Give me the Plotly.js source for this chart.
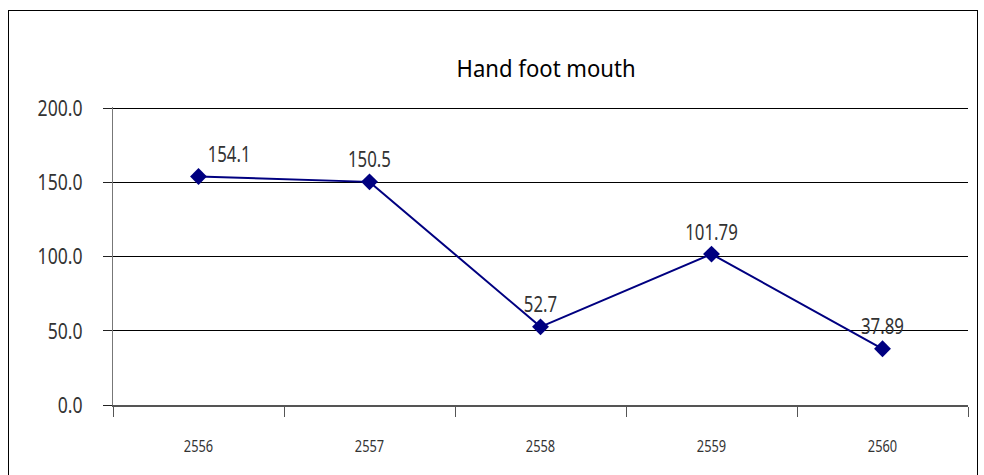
<!DOCTYPE html>
<html><head><meta charset="utf-8">
<script src="https://cdn.plot.ly/plotly-3.0.1.min.js"></script>
<style>
body{margin:0;background:#fff;}
#frame{position:absolute;left:8px;top:10px;width:970px;height:480px;border:1.5px solid #000;box-sizing:border-box;}
#chart{position:absolute;left:0;top:0;width:984px;height:475px;}
</style></head>
<body><div id="frame"></div><div id="chart"></div>
<script>
const years = ["2556","2557","2558","2559","2560"];
const rates = [154.1, 150.5, 52.7, 101.79, 37.89];
const rateLabels = ["154.1","150.5","52.7","101.79","37.89"];
const yTicks = [0, 50, 100, 150, 200];

const font = "'Noto Sans', 'DejaVu Sans', sans-serif";

Plotly.newPlot('chart', [{
  x: years, y: rates, type: 'scatter', mode: 'lines+markers+text',
  text: rateLabels,
  textposition: ['top right','top center','top center','top center','top center'],
  textfont: {family: font, size: 21, color: '#333'},
  line: {color: '#000080', width: 2},
  marker: {symbol: 'diamond', size: 13, color: '#000080'},
  cliponaxis: false, hoverinfo: 'none'
}], {
  width: 984, height: 475,
  margin: {l: 113, r: 16, t: 107, b: 70},
  paper_bgcolor: 'rgba(0,0,0,0)', plot_bgcolor: 'rgba(0,0,0,0)',
  showlegend: false,
  title: {text: 'Hand foot mouth', x: 0.555, xanchor: 'center', y: 0.855, yanchor: 'middle',
          font: {family: font, size: 24, color: '#000'}},
  xaxis: {type: 'category', range: [-0.5, 4.5], tickson: 'boundaries', ticks: 'outside', ticklen: 10,
          tickcolor: '#555', showgrid: false, showline: true, linecolor: '#555', linewidth: 2,
          zeroline: false, ticklabelstandoff: 26,
          tickfont: {family: font, size: 16, color: '#333'}},
  yaxis: {range: [0, 201], tickvals: yTicks, tickformat: '.1f', ticks: 'outside', ticklen: 9,
          tickcolor: '#222', showgrid: true, gridcolor: '#000', gridwidth: 1,
          showline: true, linecolor: '#777', linewidth: 1, zeroline: false,
          ticklabelstandoff: 16,
          tickfont: {family: font, size: 22, color: '#333'}}
}, {staticPlot: true}).then(function(gd){
  // condense glyphs horizontally (the original uses a narrow face)
  gd.querySelectorAll('svg text').forEach(function(t){
    if (!t.textContent) return;
    var w = t.getComputedTextLength();
    var f = t.classList.contains('gtitle') ? 0.92 : 0.8;
    t.setAttribute('textLength', (w * f).toFixed(1));
    t.setAttribute('lengthAdjust', 'spacingAndGlyphs');
  });
});
</script></body></html>
